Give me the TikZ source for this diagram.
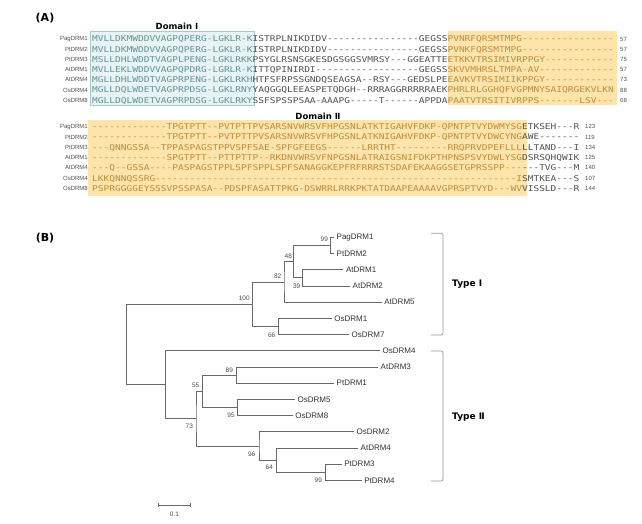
\documentclass[tikz,border=0pt]{standalone}
\usepackage{fontspec}
\setmainfont{Liberation Sans}
\newfontfamily\seqfont[FakeStretch=1.19,Ligatures=TeXOff]{DejaVu Sans Mono}
\newfontfamily\headfont{DejaVu Sans}
\usetikzlibrary{
    arrows.meta,
    positioning
}
\definecolor{domIfill}{RGB}{232,243,243}
\definecolor{domIline}{RGB}{170,200,204}
\definecolor{domItext}{RGB}{100,145,155}
\definecolor{domIIfill}{RGB}{253,228,170}
\definecolor{domIItext}{RGB}{190,140,60}
\definecolor{seqgray}{RGB}{80,80,80}
\definecolor{treegray}{RGB}{105,105,105}
\definecolor{brackgray}{RGB}{150,150,150}
\tikzset{
  panel/.style   = {font=\headfont\bfseries\fontsize{11}{13}\selectfont},
  domlab/.style  = {font=\headfont\bfseries\fontsize{8.5}{10}\selectfont},
  seqname/.style = {anchor=east, inner sep=0pt, text=seqgray,
                    font=\fontsize{6}{7}\selectfont},
  seqrow/.style  = {anchor=west, inner sep=0pt, text=seqgray,
                    text height=5.8pt, text depth=0pt,
                    font=\seqfont\fontsize{8}{9}\selectfont},
  seqnum/.style  = {anchor=west, inner sep=0pt, text=seqgray,
                    font=\fontsize{6}{7}\selectfont},
  leaf/.style    = {anchor=west, inner xsep=2.5pt, inner ysep=1pt,
                    text=black!80, font=\fontsize{8}{9.6}\selectfont},
  boot/.style    = {inner sep=0pt, text=black!70,
                    font=\fontsize{6.5}{7.5}\selectfont},
  branch/.style  = {treegray, line width=0.7pt},
  brack/.style   = {brackgray, line width=0.7pt, rounded corners=2pt},
  typelab/.style = {anchor=west, inner sep=0pt,
                    font=\headfont\bfseries\fontsize{9}{11}\selectfont}
}
\newcommand{\segI}[1]{\textcolor{domItext}{#1}}
\newcommand{\segII}[1]{\textcolor{domIItext}{#1}}

\begin{document}
\begin{tikzpicture}[x=1pt, y=-1pt]
\useasboundingbox (0,0) rectangle (642,524);

\node[panel] (labA) at (45,18) {(A)};
\node[panel] (labB) at (45,238) {(B)};

% shaded domains
\fill[domIfill] (90,31) rectangle (254,105);
\draw[domIline, line width=0.6pt] (90,31) rectangle (254,105);
\fill[domIIfill] (447.5,31) rectangle (617,105);
\fill[domIIfill] (88,120) rectangle (527,196);

\node[domlab] (domI)  at (177,26)  {Domain Ⅰ};
\node[domlab] (domII) at (318,116) {Domain Ⅱ};

% block 1
\node[seqname] (nm1) at (88,39)   {PagDRM1};
\node[seqname] (nm2) at (88,49.2) {PtDRM2};
\node[seqname] (nm3) at (88,59.4) {PtDRM3};
\node[seqname] (nm4) at (88,69.6) {AtDRM1};
\node[seqname] (nm5) at (88,79.8) {AtDRM4};
\node[seqname] (nm6) at (88,90)   {OsDRM4};
\node[seqname] (nm7) at (88,100.2) {OsDRM8};

\node[seqrow] (sq1) at (92,39)   {\segI{MVLLDKMWDDVVAGPQPERG-LGKLR-K}ISTRPLNIKDIDV----------------GEGSS\segII{PVNRFQRSMTMPG----------------}};
\node[seqrow] (sq2) at (92,49.2) {\segI{MVLLDKMWDDVVAGPQPERG-LGKLR-K}ISTRPLNIKDIDV----------------GEGSS\segII{PVNKFQRSMTMPG----------------}};
\node[seqrow] (sq3) at (92,59.4) {\segI{MSLLDHLWDDTVAGPLPENG-LGKLRKK}PSYGLRSNSGKESDGSGGSVMRSY---GGEATTE\segII{ETKKVTRSIMIVRPPGY------------}};
\node[seqrow] (sq4) at (92,69.6) {\segI{MVLLEKLWDDVVAGPQPDRG-LGRLR-K}ITTQPINIRDI------------------GEGSS\segII{SKVVMHRSLTMPA-AV-------------}};
\node[seqrow] (sq5) at (92,79.8) {\segI{MGLLDHLWDDTVAGPRPENG-LGKLRKH}HTFSFRPSSGNDQSEAGSA--RSY---GEDSLPE\segII{EAVKVTRSIMIIKPPGY------------}};
\node[seqrow] (sq6) at (92,90)   {\segI{MGLLDQLWDETVAGPRPDSG-LGKLRNY}YAQGGQLEEASPETQDGH--RRRAGGRRRRRAEK\segII{PHRLRLGGHQFVGPMNYSAIQRGEKVLKN}};
\node[seqrow] (sq7) at (92,100.2) {\segI{MGLLDQLWDETVAGPRPDSG-LGKLRKY}SSFSPSSPSAA-AAAPG-----T------APPDA\segII{PAATVTRSITIVRPPS-------LSV---}};

\node[seqnum] (nu1) at (620,39)   {57};
\node[seqnum] (nu2) at (620,49.2) {57};
\node[seqnum] (nu3) at (620,59.4) {75};
\node[seqnum] (nu4) at (620,69.6) {57};
\node[seqnum] (nu5) at (620,79.8) {73};
\node[seqnum] (nu6) at (620,90)   {88};
\node[seqnum] (nu7) at (620,100.2) {68};

% block 2
\node[seqname] (nm8)  at (88,126.7) {PagDRM1};
\node[seqname] (nm9)  at (88,137)   {PtDRM2};
\node[seqname] (nm10) at (88,147.3) {PtDRM3};
\node[seqname] (nm11) at (88,157.6) {AtDRM1};
\node[seqname] (nm12) at (88,167.9) {AtDRM4};
\node[seqname] (nm13) at (88,178.2) {OsDRM4};
\node[seqname] (nm14) at (88,188.5) {OsDRM8};

\node[seqrow] (sq8)  at (92,126.7) {\segII{-------------TPGTPTT--PVTPTTPVSARSNVWRSVFHPGSNLATKTIGAHVFDKP-QPNTPTVYDWMYSG}ETKSEH---R};
\node[seqrow] (sq9)  at (92,137)   {\segII{-------------TPGTPTT--PVTPTTPVSARSNVWRSVFHPGSNLATKNIGAHVFDKP-QPNTPTVYDWCYNG}AWE-------};
\node[seqrow] (sq10) at (92,147.3) {\segII{---QNNGSSA--TPPASPAGSTPPVSPFSAE-SPFGFEEGS------LRRTHT---------RRQPRVDPEFLLL}LLTAND---I};
\node[seqrow] (sq11) at (92,157.6) {\segII{-------------SPGTPTT--PTTPTTP--RKDNVWRSVFNPGSNLATRAIGSNIFDKPTHPNSPSVYDWLYSG}DSRSQHQWIK};
\node[seqrow] (sq12) at (92,167.9) {\segII{---Q--GSSA----PASPAGSTPPLSPFSPPLSPFSANAGGKEPFRFRRRSTSDAFEKAAGGSETGPRSSPP---}---TVG---M};
\node[seqrow] (sq13) at (92,178.2) {\segII{LKKQNNQSSRG---------------------------------------------------------------I}SMTKEA---S};
\node[seqrow] (sq14) at (92,188.5) {\segII{PSPRGGGGEYSSSVPSSPASA--PDSPFASATTPKG-DSWRRLRRKPKTATDAAPEAAAAVGPRSPTVYD---WV}VISSLD---R};

\node[seqnum] (nu8)  at (585,126.7) {123};
\node[seqnum] (nu9)  at (585,137)   {119};
\node[seqnum] (nu10) at (585,147.3) {134};
\node[seqnum] (nu11) at (585,157.6) {125};
\node[seqnum] (nu12) at (585,167.9) {140};
\node[seqnum] (nu13) at (585,178.2) {107};
\node[seqnum] (nu14) at (585,188.5) {144};

% tree leaves
\node[leaf] (PagDRM1) at (334,237.3)   {PagDRM1};
\node[leaf] (PtDRM2)  at (334,253.5)   {PtDRM2};
\node[leaf] (AtDRM1)  at (343.3,269.7) {AtDRM1};
\node[leaf] (AtDRM2)  at (350,285.9)   {AtDRM2};
\node[leaf] (AtDRM5)  at (381.7,302.1) {AtDRM5};
\node[leaf] (OsDRM1)  at (331.7,318.3) {OsDRM1};
\node[leaf] (OsDRM7)  at (349,334.5)   {OsDRM7};
\node[leaf] (OsDRM4)  at (380,350.7)   {OsDRM4};
\node[leaf] (AtDRM3)  at (378,366.9)   {AtDRM3};
\node[leaf] (PtDRM1)  at (334,383.1)   {PtDRM1};
\node[leaf] (OsDRM5)  at (295,399.3)   {OsDRM5};
\node[leaf] (OsDRM8)  at (292.7,415.5) {OsDRM8};
\node[leaf] (OsDRM2)  at (354,431.7)   {OsDRM2};
\node[leaf] (AtDRM4)  at (358,447.9)   {AtDRM4};
\node[leaf] (PtDRM3)  at (341.7,464.1) {PtDRM3};
\node[leaf] (PtDRM4)  at (361.7,480.3) {PtDRM4};

% inner nodes
\coordinate (n99a) at (330.7,245.4);
\coordinate (n39)  at (302.7,277.8);
\coordinate (n48)  at (293.3,261.6);
\coordinate (n82)  at (284,281.9);
\coordinate (n66)  at (278.3,326.4);
\coordinate (n100) at (252.3,304.1);
\coordinate (root) at (126.7,344.4);
\coordinate (nTop) at (165.7,384.6);
\coordinate (n89)  at (236.7,375);
\coordinate (n95)  at (237.3,407.4);
\coordinate (n55)  at (202.7,391.2);
\coordinate (n73)  at (196,418.5);
\coordinate (n96)  at (259,445.9);
\coordinate (n64)  at (276.7,460);
\coordinate (n99b) at (325.7,472.2);

% branches
\draw[branch] (PagDRM1.west) -| (n99a) |- (PtDRM2.west);
\draw[branch] (AtDRM1.west) -| (n39) |- (AtDRM2.west);
\draw[branch] (n99a) -| (n48) |- (n39);
\draw[branch] (n48) -| (n82) |- (AtDRM5.west);
\draw[branch] (OsDRM1.west) -| (n66) |- (OsDRM7.west);
\draw[branch] (n82) -| (n100) |- (n66);
\draw[branch] (n100) -| (root) |- (nTop);
\draw[branch] (OsDRM4.west) -| (nTop) |- (n73);
\draw[branch] (AtDRM3.west) -| (n89) |- (PtDRM1.west);
\draw[branch] (OsDRM5.west) -| (n95) |- (OsDRM8.west);
\draw[branch] (n89) -| (n55) |- (n95);
\draw[branch] (n55) -| (n73) |- (n96);
\draw[branch] (OsDRM2.west) -| (n96) |- (n64);
\draw[branch] (AtDRM4.west) -| (n64) |- (n99b);
\draw[branch] (PtDRM3.west) -| (n99b) |- (PtDRM4.west);

% bootstrap values
\node[boot] (bs99a) at (324.3,239.3) {99};
\node[boot] (bs48)  at (288.3,256)   {48};
\node[boot] (bs82)  at (277.7,276.7) {82};
\node[boot] (bs39)  at (296.7,286)   {39};
\node[boot] (bs100) at (244.3,298.3) {100};
\node[boot] (bs66)  at (271.7,335.7) {66};
\node[boot] (bs89)  at (229.3,370)   {89};
\node[boot] (bs55)  at (195.7,385.7) {55};
\node[boot] (bs95)  at (231,415.7)   {95};
\node[boot] (bs73)  at (189.3,426.7) {73};
\node[boot] (bs96)  at (251.7,454)   {96};
\node[boot] (bs64)  at (269.3,467.7) {64};
\node[boot] (bs99b) at (318.3,480)   {99};

% groups
\coordinate (brI) at (443,284.3);
\coordinate (brII) at (443,416.7);
\draw[brack] (431,233.3) -- (443,233.3) -- (443,335) -- (431,335);
\draw[brack] (431,351) -- (443,351) -- (443,481) -- (431,481);
\node[typelab, right=9pt of brI] (typeI) {Type Ⅰ};
\node[typelab, right=9pt of brII] (typeII) {Type Ⅱ};

% scale bar
\coordinate (sbl) at (158.3,505);
\coordinate (sbr) at (190.7,505);
\draw[treegray, line width=0.7pt, {Bar[width=4pt]}-{Bar[width=4pt]}] (sbl) -- (sbr);
\node[boot] (sbtxt) at (174.5,514) {0.1};

\end{tikzpicture}
\end{document}
